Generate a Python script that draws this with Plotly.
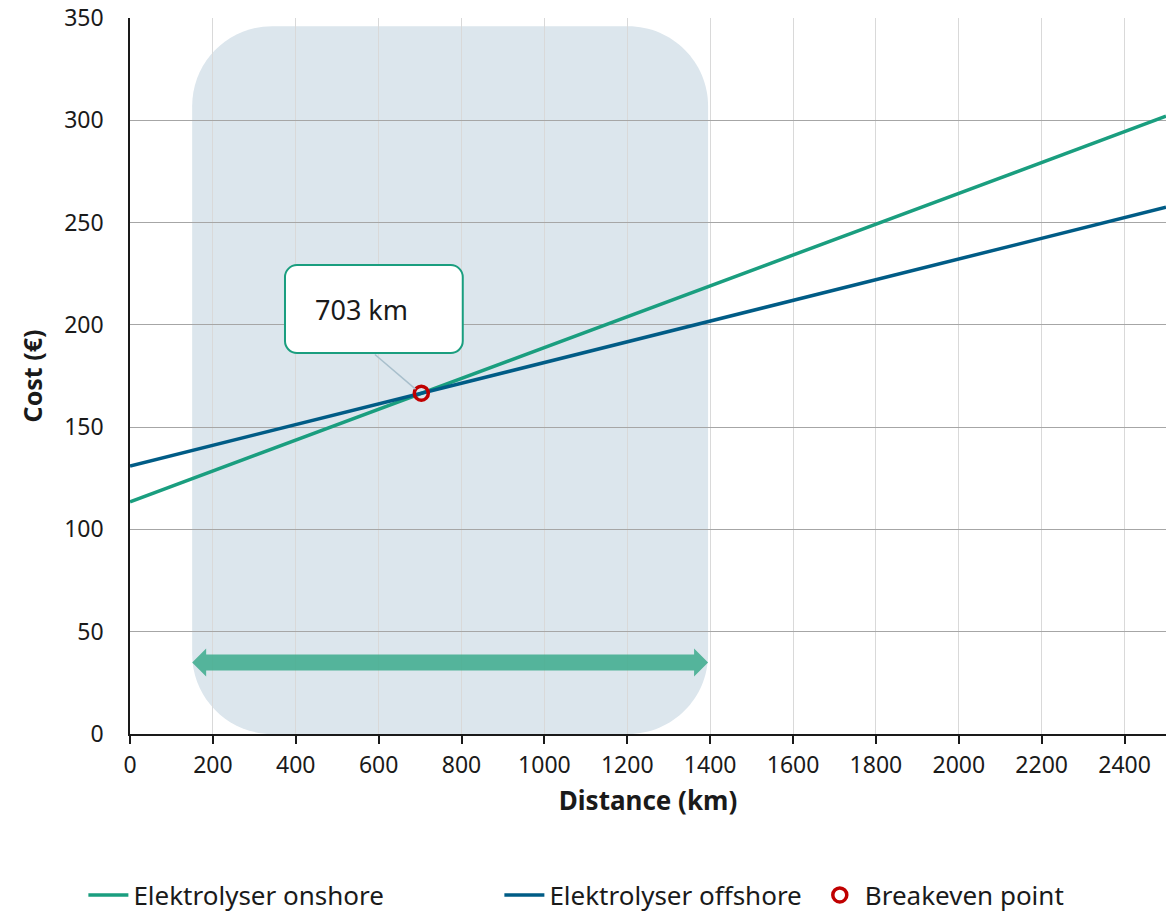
import plotly.graph_objects as go

# ---- data ----
distance_km = [0, 2500]
onshore_cost = [113.5, 302.0]
offshore_cost = [131.0, 257.5]
breakeven_km = [703]
breakeven_cost = [166.6]
breakeven_label = "703 km"
highlight_km = [150, 1395]     # shaded range / arrow extent
highlight_top = 346
arrow_level = 35
x_ticks = list(range(0, 2600, 200))
y_ticks = list(range(0, 400, 50))

ON_COL = "#1a9e7f"
OFF_COL = "#005c86"
RED = "#c00000"
FONT = "Noto Sans"

# pixel->data helpers (plot area is 1036 x 716 px)
PX_X = 2500 / 1036
PX_Y = 350 / 716


def rounded_rect(x0, x1, y0, y1, rpx):
    rx, ry = rpx * PX_X, rpx * PX_Y
    k = 0.5523
    return (f"M{x0+rx},{y0} L{x1-rx},{y0} "
            f"C{x1-rx+k*rx},{y0} {x1},{y0+ry-k*ry} {x1},{y0+ry} "
            f"L{x1},{y1-ry} "
            f"C{x1},{y1-ry+k*ry} {x1-rx+k*rx},{y1} {x1-rx},{y1} "
            f"L{x0+rx},{y1} "
            f"C{x0+rx-k*rx},{y1} {x0},{y1-ry+k*ry} {x0},{y1-ry} "
            f"L{x0},{y0+ry} "
            f"C{x0},{y0+ry-k*ry} {x0+rx-k*rx},{y0} {x0+rx},{y0} Z")


def double_arrow(x0, x1, y, shaft_px=8, head_px=14, headlen_px=14):
    sh, hh, hl = shaft_px * PX_Y, head_px * PX_Y, headlen_px * PX_X
    return (f"M{x0},{y} L{x0+hl},{y+hh} L{x0+hl},{y+sh} L{x1-hl},{y+sh} "
            f"L{x1-hl},{y+hh} L{x1},{y} L{x1-hl},{y-hh} L{x1-hl},{y-sh} "
            f"L{x0+hl},{y-sh} L{x0+hl},{y-hh} Z")


fig = go.Figure()
fig.add_trace(go.Scatter(x=distance_km, y=onshore_cost, mode="lines",
                         name="Elektrolyser onshore", legend="legend",
                         line=dict(color=ON_COL, width=3.5)))
fig.add_trace(go.Scatter(x=distance_km, y=offshore_cost, mode="lines",
                         name="Elektrolyser offshore", legend="legend",
                         line=dict(color=OFF_COL, width=3.5)))
fig.add_trace(go.Scatter(x=breakeven_km, y=breakeven_cost, mode="markers",
                         name="Breakeven point", legend="legend2",
                         marker=dict(symbol="circle-open", size=14, color=RED,
                                     line=dict(width=3.5, color=RED))))

shapes = [
    dict(type="path", layer="below", line=dict(width=0),
         fillcolor="#dce6ed",
         path=rounded_rect(highlight_km[0], highlight_km[1], 0, highlight_top, 80)),
    dict(type="path", layer="between", line=dict(width=0),
         fillcolor="rgba(60,170,140,0.85)",
         path=double_arrow(highlight_km[0], highlight_km[1], arrow_level)),
]

# callout box
bx0, bx1 = 374, 803
by0, by1 = 186.2, 229.2
shapes.append(dict(type="path", layer="above", line=dict(width=2, color=ON_COL),
                   fillcolor="white", path=rounded_rect(bx0, bx1, by0, by1, 12)))
shapes.append(dict(type="line", layer="above", x0=591, y0=185.5,
                   x1=breakeven_km[0] - 14, y1=breakeven_cost[0] + 2,
                   line=dict(color="#a8bfcc", width=1.5)))
fig.update_layout(shapes=shapes)

fig.add_annotation(x=441, y=207.5, text=breakeven_label, showarrow=False,
                   xanchor="left", yanchor="middle",
                   font=dict(family=FONT, size=27, color="#1a1a1a"))

fig.update_layout(
    width=1172, height=913,
    margin=dict(l=130, r=6, t=18, b=179, autoexpand=False),
    paper_bgcolor="white", plot_bgcolor="white",
    font=dict(family=FONT, size=23, color="#1a1a1a"),
    showlegend=True,
    legend=dict(orientation="h", x=-0.045, xanchor="left", y=-0.2249,
                yanchor="middle", font=dict(size=26, family=FONT),
                itemwidth=40, entrywidth=361, bgcolor="rgba(0,0,0,0)"),
    legend2=dict(orientation="h", x=0.661, xanchor="left", y=-0.2249,
                 yanchor="middle", font=dict(size=26, family=FONT),
                 itemwidth=40, bgcolor="rgba(0,0,0,0)"),
    xaxis=dict(range=[0, 2500], tickvals=x_ticks, showgrid=True,
               gridcolor="#d9d9d9", gridwidth=1, showline=True,
               linecolor="#1a1a1a", linewidth=1.5, ticks="outside",
               ticklen=8, tickcolor="#1a1a1a", tickwidth=1.5,
               zeroline=False, ticklabelstandoff=2,
               title=dict(text="<b>Distance (km)</b>", standoff=12,
                          font=dict(size=26))),
    yaxis=dict(range=[0, 350], tickvals=y_ticks, showgrid=True,
               gridcolor="#a6a6a6", gridwidth=1, showline=True,
               linecolor="#1a1a1a", linewidth=1.5, ticks="",
               zeroline=False, ticklabelstandoff=20,
               title=dict(text="<b>Cost (€)</b>", standoff=14,
                          font=dict(size=25))),
)

fig.write_html("out.html")
